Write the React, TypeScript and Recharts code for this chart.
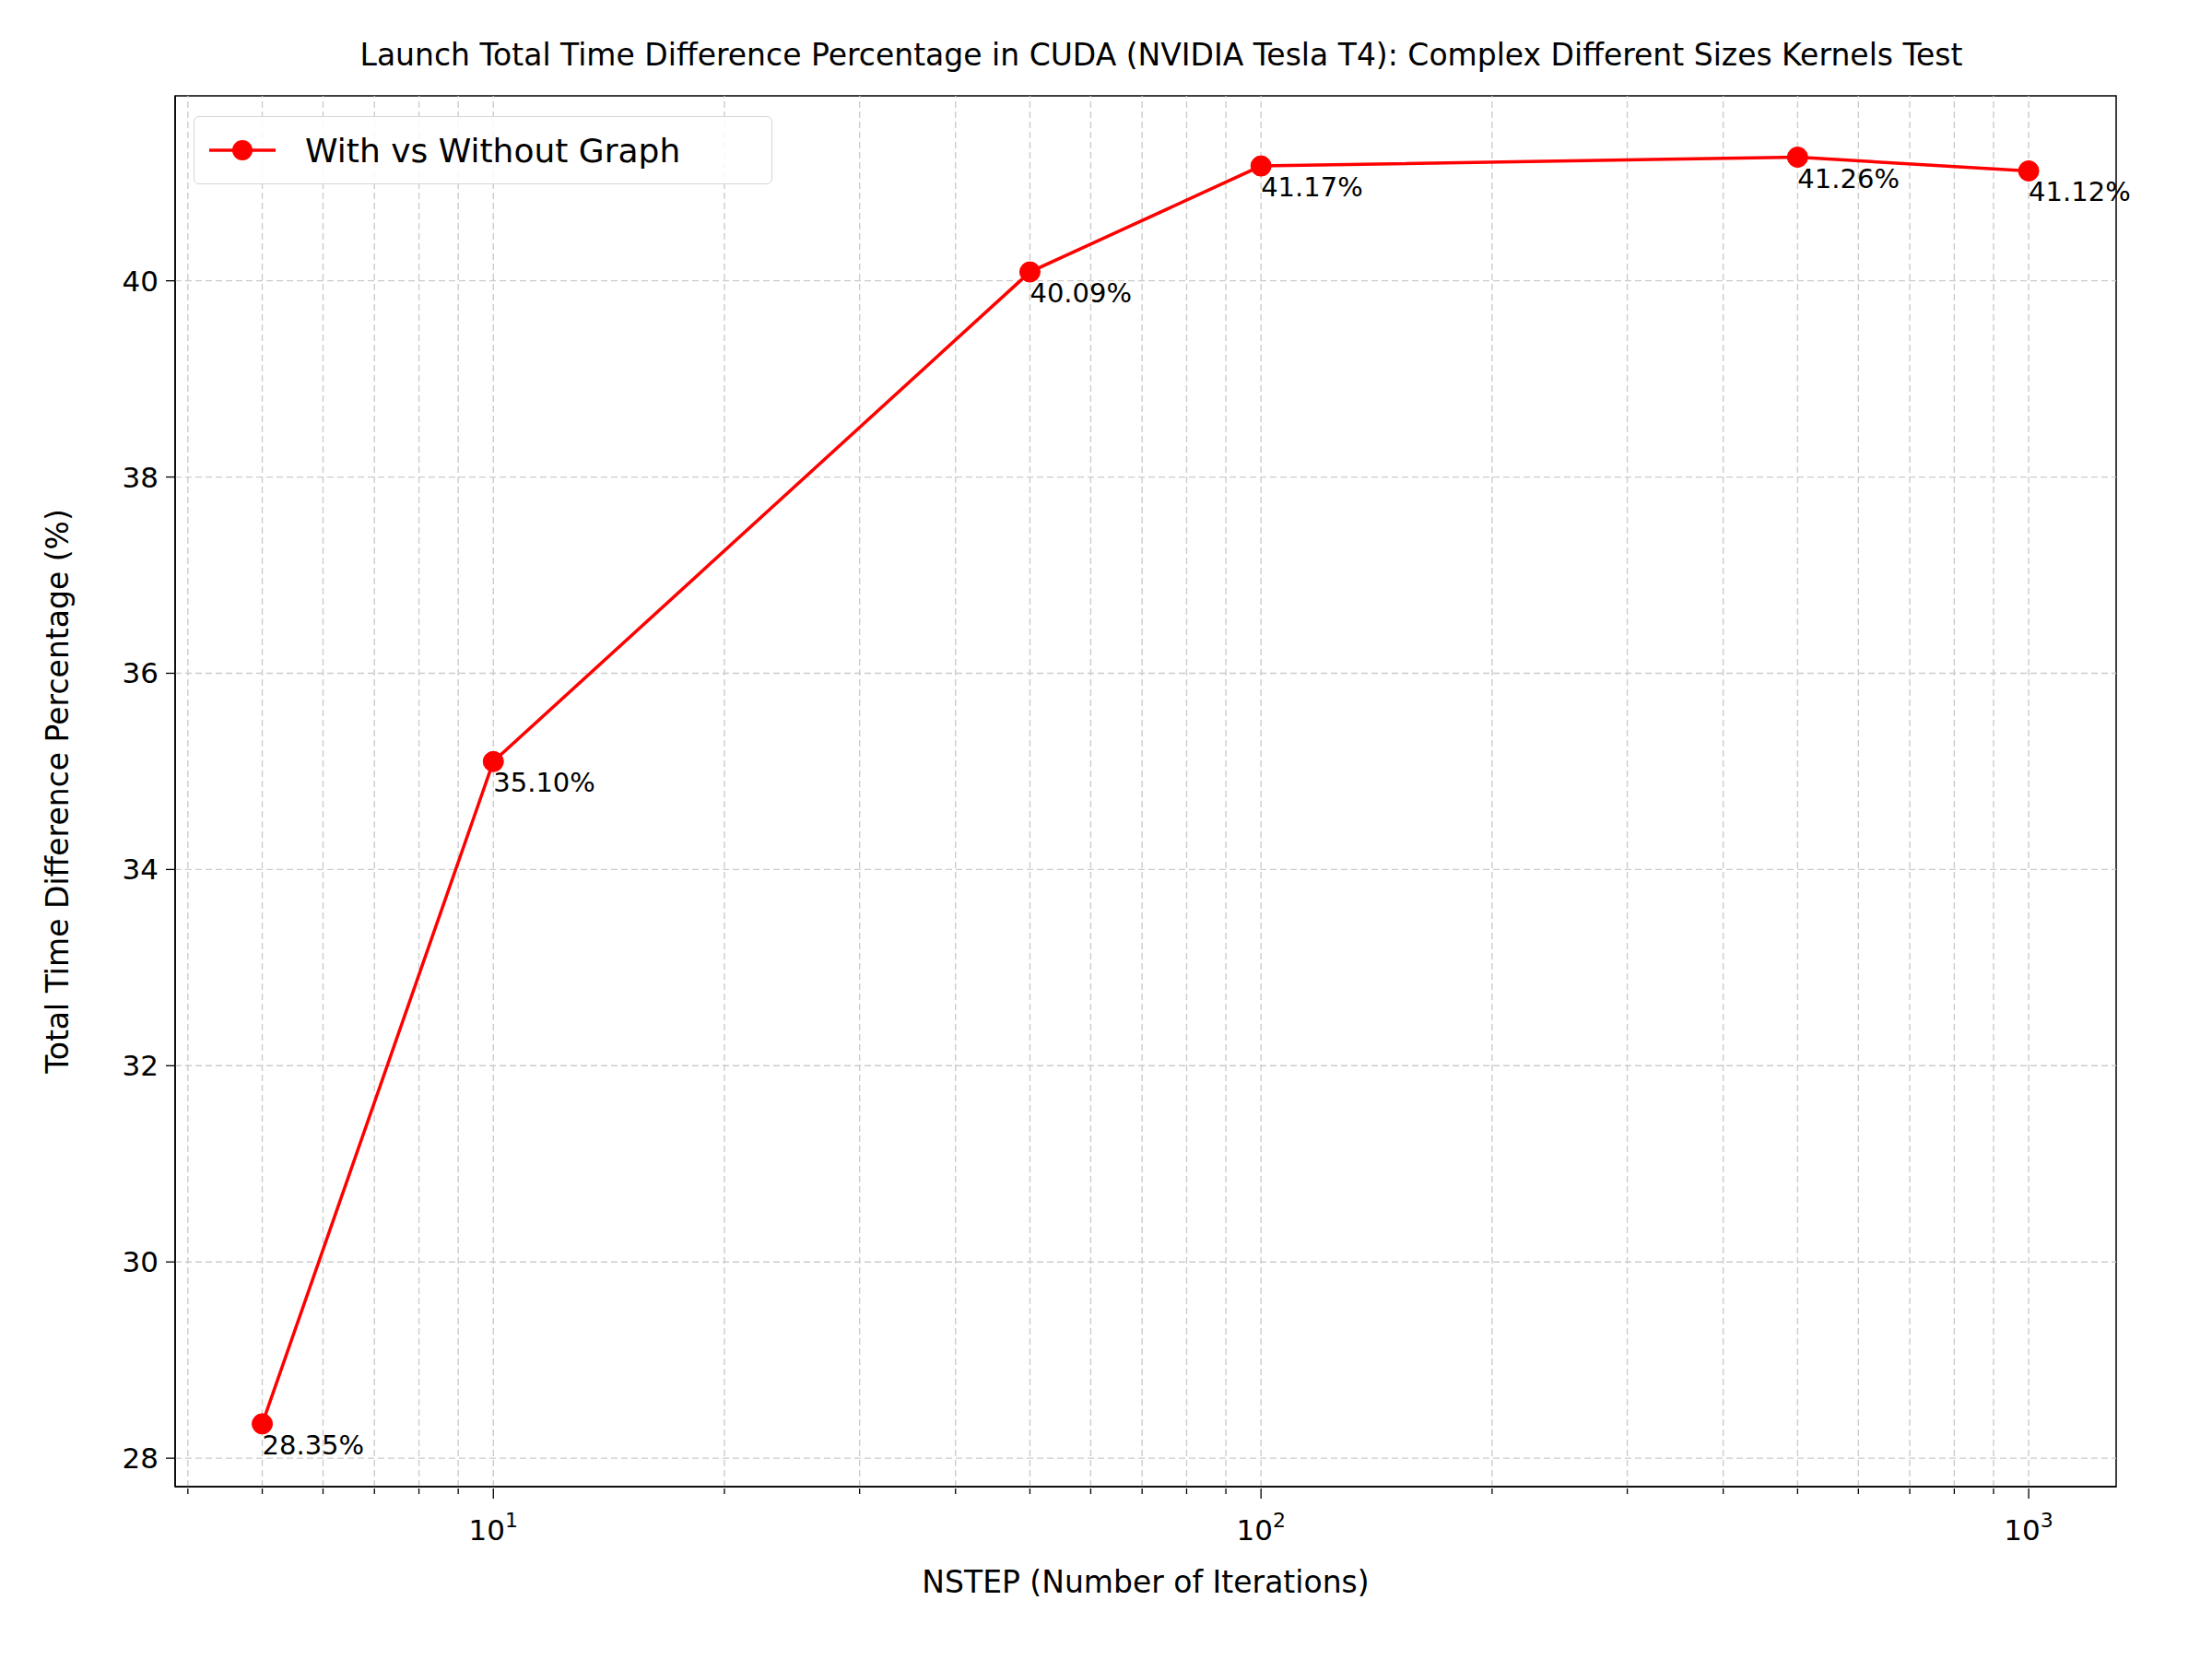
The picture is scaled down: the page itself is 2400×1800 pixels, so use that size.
import { LineChart, Line, XAxis, YAxis, ReferenceLine, ReferenceArea, LabelList } from "recharts";

const nsteps = [5, 10, 50, 100, 500, 1000];
const diffPct = [28.35, 35.1, 40.09, 41.17, 41.26, 41.12];
const yTicks = [28, 30, 32, 34, 36, 38, 40];
const majorX = [10, 100, 1000];
const minorX = [4, 5, 6, 7, 8, 9, 20, 30, 40, 50, 60, 70, 80, 90, 200, 300, 400, 500, 600, 700, 800, 900];

const data = nsteps.map((n, i) => ({ n, v: diffPct[i] }));
const X_DOMAIN = [3.85, 1300];
const Y_DOMAIN = [27.71, 41.885];
const FONT = "DejaVu Sans, sans-serif";

const XTick = (props: any) => {
  const { x, y, payload } = props;
  const v = payload.value;
  const major = majorX.includes(v);
  return (
    <g>
      <line x1={x} x2={x} y1={y} y2={y + (major ? 11 : 6)} stroke="#000" strokeWidth={1.3} />
      {major && (
        <text x={x} y={y + 56} textAnchor="middle" fontSize={31} fontFamily={FONT} fill="#000">
          10<tspan dy={-14} fontSize={22}>{Math.round(Math.log10(v))}</tspan>
        </text>
      )}
    </g>
  );
};

const PointLabel = (props: any) => {
  const { x, y, value } = props;
  return (
    <text x={x} y={y + 33} fontSize={29} fontFamily={FONT} fill="#000">
      {value.toFixed(2)}%
    </text>
  );
};

export default function App() {
  return (
    <div style={{ position: "absolute", left: 0, top: 0, width: 2400, height: 1800, background: "#fff", fontFamily: FONT }}>
      <div style={{ position: "absolute", top: 40, left: 190, width: 2140, textAlign: "center", fontSize: 33 }}>
        Launch Total Time Difference Percentage in CUDA (NVIDIA Tesla T4): Complex Different Sizes Kernels Test
      </div>
      <LineChart width={2400} height={1800} data={data} margin={{ top: 104, right: 104, bottom: 0, left: 0 }}>
        {minorX.concat(majorX).map((v) => (
          <ReferenceLine key={"x" + v} x={v} stroke="#cccccc" strokeWidth={1.4} strokeDasharray="7 4" />
        ))}
        {yTicks.map((v) => (
          <ReferenceLine key={"y" + v} y={v} stroke="#cccccc" strokeWidth={1.4} strokeDasharray="7 4" />
        ))}
        <XAxis
          dataKey="n"
          type="number"
          scale="log"
          domain={X_DOMAIN}
          allowDataOverflow
          ticks={minorX.concat(majorX).sort((a, b) => a - b)}
          interval={0}
          tick={<XTick />}
          tickLine={false}
          tickSize={0}
          height={187}
          axisLine={{ stroke: "#000", strokeWidth: 1.5 }}
          label={{ value: "NSTEP (Number of Iterations)", position: "insideBottom", offset: 72, fontSize: 33, fill: "#000", fontFamily: FONT }}
        />
        <YAxis
          type="number"
          domain={Y_DOMAIN}
          allowDataOverflow
          ticks={yTicks}
          width={190}
          tickSize={10}
          tickMargin={8}
          tickLine={{ stroke: "#000", strokeWidth: 1.3 }}
          axisLine={{ stroke: "#000", strokeWidth: 1.5 }}
          tick={{ fontSize: 31, fill: "#000", fontFamily: FONT }}
          label={{ value: "Total Time Difference Percentage (%)", angle: -90, position: "insideLeft", offset: 62, fontSize: 33, fill: "#000", fontFamily: FONT, style: { textAnchor: "middle" } }}
        />
        <ReferenceArea x1={X_DOMAIN[0]} x2={X_DOMAIN[1]} y1={Y_DOMAIN[0]} y2={Y_DOMAIN[1]} fill="none" stroke="#000" strokeWidth={1.5} fillOpacity={0} />
        <Line
          dataKey="v"
          stroke="#ff0000"
          strokeWidth={3.5}
          dot={{ r: 11, fill: "#ff0000", stroke: "#ff0000", strokeWidth: 1 }}
          isAnimationActive={false}
        >
          <LabelList dataKey="v" content={<PointLabel />} />
        </Line>
      </LineChart>
      <div style={{ position: "absolute", left: 210, top: 126, width: 628, height: 74, boxSizing: "border-box", border: "1.5px solid #d5d5d5", borderRadius: 6, background: "rgba(255,255,255,0.85)", display: "flex", alignItems: "center" }}>
        <svg width={90} height={30} style={{ marginLeft: 12 }}>
          <line x1={4} x2={76} y1={15} y2={15} stroke="#ff0000" strokeWidth={3.5} />
          <circle cx={40} cy={15} r={11} fill="#ff0000" />
        </svg>
        <span style={{ fontSize: 36, marginLeft: 18 }}>With vs Without Graph</span>
      </div>
    </div>
  );
}
